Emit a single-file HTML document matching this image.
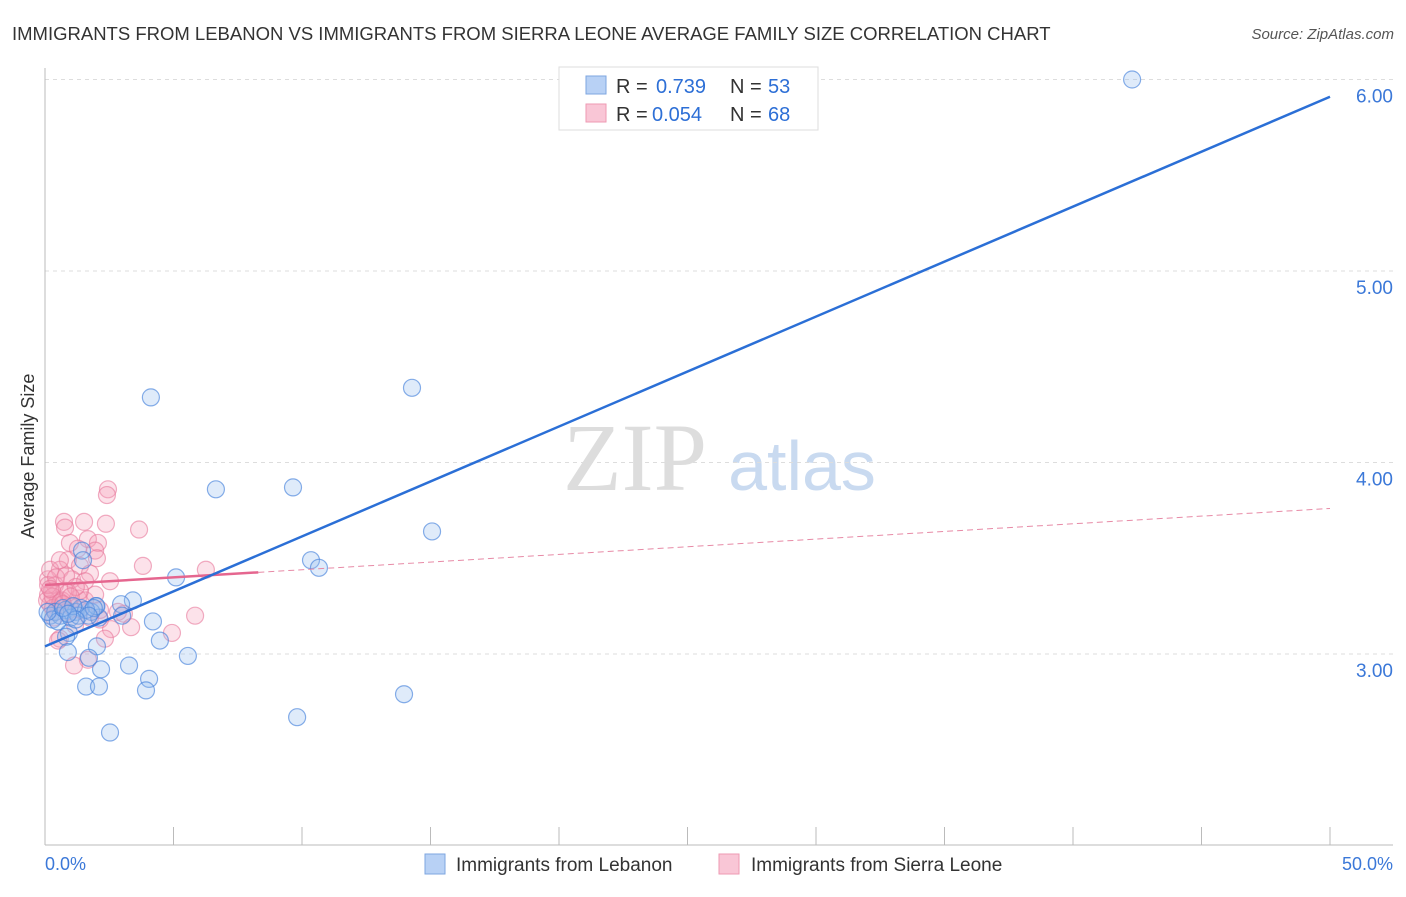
<!DOCTYPE html>
<html><head><meta charset="utf-8"><style>
body{margin:0;background:#fff;font-family:"Liberation Sans",Arial,sans-serif}
</style></head><body>
<svg id="c" width="1406" height="892" xmlns="http://www.w3.org/2000/svg">
<text x="12" y="40" font-size="18.5" fill="#333">IMMIGRANTS FROM LEBANON VS IMMIGRANTS FROM SIERRA LEONE AVERAGE FAMILY SIZE CORRELATION CHART</text>
<text x="1394" y="39" font-size="15" fill="#555" font-style="italic" text-anchor="end">Source: ZipAtlas.com</text>
<text x="34" y="456" font-size="18" fill="#333" text-anchor="middle" transform="rotate(-90 34 456)">Average Family Size</text>
<g><text x="635" y="490" font-size="96" fill="#ddd" font-family="Liberation Serif,serif" text-anchor="middle">ZIP</text><text x="802" y="490" font-size="70" fill="#c9daf0" text-anchor="middle">atlas</text></g>
<g id="grid"></g><g id="marks"></g><g id="lines"></g>
<g>
<rect x="559" y="67" width="259" height="63" fill="#fff" stroke="#ddd"/>
<rect x="586" y="76" width="20" height="18" fill="#b8d1f5" stroke="#7ea6e0"/>
<rect x="586" y="104" width="20" height="18" fill="#f9c6d6" stroke="#ee9ab3"/>
<text x="616" y="93" font-size="20" fill="#333">R =</text>
<text x="656" y="93" font-size="20" fill="#2d6fd6">0.739</text>
<text x="730" y="93" font-size="20" fill="#333">N =</text>
<text x="768" y="93" font-size="20" fill="#2d6fd6">53</text>
<text x="616" y="121" font-size="20" fill="#333">R =</text>
<text x="652" y="121" font-size="20" fill="#2d6fd6">0.054</text>
<text x="730" y="121" font-size="20" fill="#333">N =</text>
<text x="768" y="121" font-size="20" fill="#2d6fd6">68</text>
</g>
<g>
<rect x="425" y="854" width="20" height="20" fill="#b8d1f5" stroke="#7ea6e0"/>
<text x="456" y="871" font-size="19" fill="#333">Immigrants from Lebanon</text>
<rect x="719" y="854" width="20" height="20" fill="#f9c6d6" stroke="#ee9ab3"/>
<text x="751" y="871" font-size="19" fill="#333">Immigrants from Sierra Leone</text>
</g>
<text x="45" y="870" font-size="18" fill="#3b78d8">0.0%</text>
<text x="1393" y="870" font-size="18" fill="#3b78d8" text-anchor="end">50.0%</text>
</svg>
<script>
const yTicks=[3,4,5,6];
const yTickLabels=["3.00","4.00","5.00","6.00"];
const xTicks=[0,5,10,15,20,25,30,35,40,45,50];
const blueX=[42.3,4.12,14.28,6.65,9.65,15.06,10.35,10.66,5.10,3.42,2.96,1.98,4.20,2.10,0.93,0.82,4.47,5.56,0.89,2.02,1.71,2.18,3.27,4.05,3.93,1.60,2.10,13.97,9.81,2.53,1.44,1.48,0.2,0.4,0.6,0.8,1.2,1.4,1.8,2.0,0.3,0.5,1.0,1.3,1.6,0.1,0.7,1.1,3.0,1.9,1.7,1.2,0.9];
const blueY=[6.00,4.34,4.39,3.86,3.87,3.64,3.49,3.45,3.40,3.28,3.26,3.25,3.17,3.19,3.11,3.09,3.07,2.99,3.01,3.04,2.98,2.92,2.94,2.87,2.81,2.83,2.83,2.79,2.67,2.59,3.54,3.49,3.20,3.22,3.20,3.23,3.22,3.24,3.22,3.25,3.18,3.17,3.19,3.20,3.23,3.22,3.24,3.25,3.20,3.24,3.20,3.18,3.21];
const pinkX=[2.45,2.41,0.74,1.52,0.78,2.37,3.66,1.67,0.97,2.06,1.28,1.95,0.89,2.02,3.81,1.36,0.58,6.26,1.75,1.05,1.56,2.53,0.39,0.78,0.12,1.28,0.51,3.07,5.84,0.2,0.27,0.66,0.97,1.36,1.75,2.14,2.57,3.35,4.94,2.33,0.58,1.67,1.13,0.12,0.2,0.35,1.17,0.51,0.86,1.56,1.95,0.08,0.31,0.12,0.43,0.82,2.14,1.36,2.84,0.58,0.3,0.6,0.9,1.2,0.4,0.2,1.0,0.7];
const pinkY=[3.86,3.83,3.69,3.69,3.66,3.68,3.65,3.60,3.58,3.58,3.55,3.54,3.49,3.50,3.46,3.46,3.44,3.44,3.42,3.39,3.38,3.38,3.36,3.33,3.31,3.29,3.28,3.21,3.20,3.26,3.33,3.28,3.25,3.23,3.19,3.18,3.13,3.14,3.11,3.08,3.08,2.97,2.94,3.39,3.44,3.19,3.15,3.07,3.22,3.28,3.31,3.28,3.24,3.36,3.40,3.41,3.23,3.33,3.22,3.49,3.30,3.27,3.32,3.35,3.22,3.34,3.30,3.26];
const blueTrend=[3.04,5.91];
const pinkTrend=[3.36,3.76];
const pinkSolidEnd=8.3;
const X=v=>45+v*25.7, Y=v=>654-(v-3)*191.5;
const NS="http://www.w3.org/2000/svg";
function mk(p,t,a){const e=document.createElementNS(NS,t);for(const k in a)e.setAttribute(k,a[k]);p.appendChild(e);return e;}
const g=document.getElementById('grid'),m=document.getElementById('marks'),l=document.getElementById('lines');
yTicks.forEach((t,i)=>{
 const ln=mk(g,'line',{x1:45,x2:1393,y1:Y(t),y2:Y(t),stroke:'#ddd','stroke-dasharray':'4,4'});
 
 
 const tx=mk(g,'text',{x:1393,y:Y(t)+23,'font-size':19,fill:'#3b78d8','text-anchor':'end'});tx.textContent=yTickLabels[i];
 
 
});
const ax=mk(g,'line',{x1:45,x2:1393,y1:845,y2:845,stroke:'#bbb'});


const ay=mk(g,'line',{x1:45,x2:45,y1:68,y2:845,stroke:'#bbb'});


xTicks.forEach(t=>{const e=mk(g,'line',{x1:X(t),x2:X(t),y1:827,y2:845,stroke:'#bbb'});
 
 });
pinkX.forEach((x,i)=>{const c=mk(m,'circle',{cx:X(x),cy:Y(pinkY[i]),r:8.5,fill:'rgba(245,160,185,0.3)',stroke:'rgba(232,120,155,0.6)','stroke-width':1.2});
 
 });
blueX.forEach((x,i)=>{const c=mk(m,'circle',{cx:X(x),cy:Y(blueY[i]),r:8.5,fill:'rgba(150,190,240,0.3)',stroke:'rgba(70,130,220,0.65)','stroke-width':1.2});
 
 });
const pAt=x=>pinkTrend[0]+(pinkTrend[1]-pinkTrend[0])*x/50;
const pd=mk(l,'line',{x1:X(pinkSolidEnd),y1:Y(pAt(pinkSolidEnd)),x2:X(50),y2:Y(pinkTrend[1]),stroke:'#e78aa6','stroke-width':1,'stroke-dasharray':'6,4'});


const ps=mk(l,'line',{x1:X(0),y1:Y(pinkTrend[0]),x2:X(pinkSolidEnd),y2:Y(pAt(pinkSolidEnd)),stroke:'#e5668f','stroke-width':2.5});


const bl=mk(l,'line',{x1:X(0),y1:Y(blueTrend[0]),x2:X(50),y2:Y(blueTrend[1]),stroke:'#2b6fd6','stroke-width':2.5});


</script>
</body></html>
